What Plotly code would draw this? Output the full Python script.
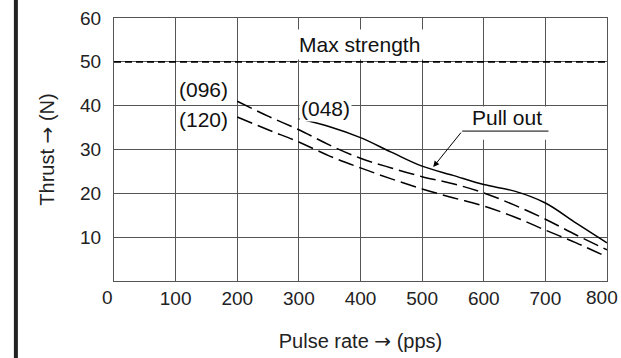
import plotly.graph_objects as go

# ---- data ----
x_048 = [300, 350, 400, 450, 500, 550, 600, 650, 700, 750, 800]
y_048 = [37.0, 35.2, 32.7, 29.4, 26.2, 24.1, 22.0, 20.5, 17.8, 13.2, 8.7]

x_096 = [200, 250, 300, 350, 400, 450, 500, 550, 600, 650, 700, 750, 800]
y_096 = [41.0, 37.6, 34.5, 31.0, 28.0, 25.8, 23.8, 22.2, 20.1, 17.3, 14.1, 10.5, 7.1]

x_120 = [200, 250, 300, 350, 400, 450, 500, 550, 600, 650, 700, 750, 800]
y_120 = [37.4, 34.5, 31.7, 28.5, 25.8, 23.3, 21.0, 19.0, 17.1, 14.6, 11.6, 8.7, 5.5]

max_x = [0, 800]
max_y = [50, 50]

x_ticks = [0, 100, 200, 300, 400, 500, 600, 700, 800]
x_ticktext = ["", "100", "200", "300", "400", "500", "600", "700", ""]
edge_ticks = [0, 800]          # labels drawn offset like the printed figure
edge_shift = [-7, -5]
y_ticks = [10, 20, 30, 40, 50, 60]

FONT = "Liberation Sans, Arial, sans-serif"
ARROW = '<span style="font-family:DejaVu Sans">\u2192</span>'
TICKFONT = dict(size=19, color="#222", family=FONT)

fig = go.Figure()
fig.add_trace(go.Scatter(x=max_x, y=max_y, mode="lines",
                         line=dict(color="black", width=1.6, dash="7px,4px")))
fig.add_trace(go.Scatter(x=x_096, y=y_096, mode="lines", line_shape="spline",
                         line=dict(color="black", width=1.5, dash="16px,6px")))
fig.add_trace(go.Scatter(x=x_120, y=y_120, mode="lines", line_shape="spline",
                         line=dict(color="black", width=1.5, dash="16px,6px")))
fig.add_trace(go.Scatter(x=x_048, y=y_048, mode="lines", line_shape="spline",
                         line=dict(color="black", width=1.5)))

lab = dict(size=21, color="#111", family=FONT)
fig.add_annotation(x=398, y=53.9, text="Max strength", showarrow=False,
                   font=lab, bgcolor="white", borderpad=3)
fig.add_annotation(x=145, y=43.6, text="(096)", showarrow=False, font=lab)
fig.add_annotation(x=145, y=36.8, text="(120)", showarrow=False, font=lab)
fig.add_annotation(x=344, y=39.3, text="(048)", showarrow=False, font=lab,
                   bgcolor="white", borderpad=1)
fig.add_annotation(x=638, y=37.2, text="Pull out", showarrow=False, font=lab)
fig.add_annotation(x=518, y=26.0, ax=565, ay=34.2, axref="x", ayref="y",
                   text="", showarrow=True, arrowhead=2, arrowsize=1.2,
                   arrowwidth=1, arrowcolor="black")

for xv, sh in zip(edge_ticks, edge_shift):
    fig.add_annotation(x=xv, y=0, yref="paper", text=str(xv), showarrow=False,
                       font=TICKFONT, yanchor="middle", yshift=-16, xshift=sh)

# white patch behind "Pull out" (hides grid) and underline leader
fig.add_shape(type="rect", x0=571, x1=711, y0=32.2, y1=39.8, layer="between",
              fillcolor="white", line=dict(width=0))
fig.add_shape(type="line", x0=565, x1=705, y0=34.2, y1=34.2,
              line=dict(color="black", width=1))
# page border line at left
fig.add_shape(type="line", xref="paper", yref="paper", x0=-0.199, x1=-0.199,
              y0=-0.3, y1=1.1, line=dict(color="#222", width=4))

axis_common = dict(showgrid=True, gridcolor="#555", gridwidth=1,
                   showline=True, linecolor="#555", linewidth=1, mirror=True,
                   zeroline=False, ticks="", automargin=False,
                   tickfont=TICKFONT)
fig.update_xaxes(range=[0, 800], tickvals=x_ticks, ticktext=x_ticktext,
                 title=dict(text="Pulse rate " + ARROW + " (pps)", standoff=26,
                            font=dict(size=20, color="#222", family=FONT)),
                 **axis_common)
fig.update_yaxes(range=[0, 60], tickvals=y_ticks, ticklabelstandoff=8,
                 title=dict(text="Thrust " + ARROW + " (N)", standoff=20,
                            font=dict(size=20, color="#222", family=FONT)),
                 **axis_common)
fig.update_layout(width=621, height=358, showlegend=False,
                  margin=dict(l=114, r=14, t=18, b=77),
                  plot_bgcolor="white", paper_bgcolor="white")
fig.write_html("out.html")
